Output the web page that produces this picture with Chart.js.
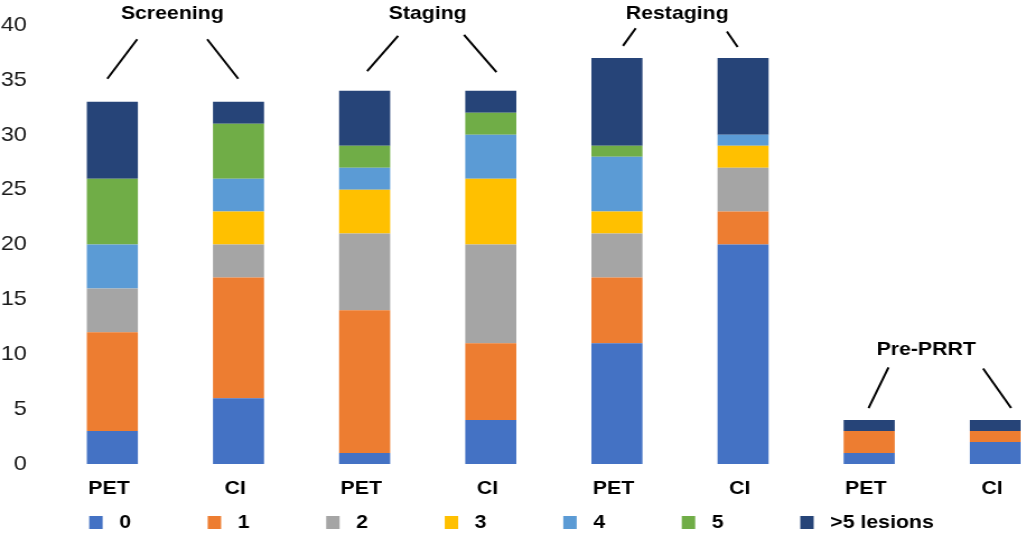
<!DOCTYPE html>
<html>
<head>
<meta charset="utf-8">
<title>Lesions per modality</title>
<script src="https://cdn.jsdelivr.net/npm/chart.js@4.4.1/dist/chart.umd.min.js"></script>
<style>
  html,body{margin:0;padding:0;background:#fff;overflow:hidden;width:1021px;height:536px;}
  /* the source image is stretched horizontally, so the chart is drawn narrow and widened */
  #wrap{position:absolute;left:0;top:0;width:945px;height:542px;transform:scaleX(1.12);transform-origin:0 0;}
</style>
</head>
<body>
<div id="wrap"><canvas id="lesionChart" width="945" height="542"></canvas></div>
<script>
// ===================== DATA =====================
const categories=['PET','CI','PET','CI','PET','CI','PET','CI'];
const groupNames=['Screening','Staging','Restaging','Pre-PRRT'];
const seriesNames=['0','1','2','3','4','5','>5 lesions'];
const lesions0=[3,6,1,4,11,20,1,2];
const lesions1=[9,11,13,7,6,3,2,1];
const lesions2=[4,3,7,9,4,4,0,0];
const lesions3=[0,3,4,6,2,2,0,0];
const lesions4=[4,3,2,4,5,1,0,0];
const lesions5=[6,5,2,2,1,0,0,0];
const lesionsMore=[7,2,5,2,8,7,1,1];
const yMin=0, yMax=40, yStep=5;

// ===================== STYLE =====================
const COLORS=['#4472C4','#ED7D31','#A5A5A5','#FFC000','#5B9BD5','#70AD47','#264478'];
const FONT='"Liberation Sans", Arial, sans-serif';

// bracket geometry for the group labels, in axis units
// (x = category index, y = value on the count axis)
const BRACKETS=[
  {x:0.475, y:41.0, lines:[[-0.04,35.1, 0.197,38.7],[0.752,38.7, 0.998,35.1]]},
  {x:2.50,  y:41.0, lines:[[2.02,35.8, 2.265,39.0],[2.788,39.1, 3.045,35.7]]},
  {x:4.478, y:41.0, lines:[[4.048,38.1, 4.149,39.7],[4.872,39.4, 4.957,38.0]]},
  {x:6.452, y:10.4, lines:[[5.995,5.1, 6.153,8.8],[6.903,8.7, 7.125,5.1]]},
];

// ===================== PLUGIN: group labels + brackets =====================
const groupBrackets={
  id:'groupBrackets',
  afterDatasetsDraw(chart){
    const {ctx,scales:{x,y}}=chart;
    ctx.save();
    ctx.strokeStyle='#000';
    ctx.lineWidth=2;
    ctx.fillStyle='#000';
    ctx.font='bold 19px '+FONT;
    ctx.textAlign='center';
    ctx.textBaseline='middle';
    BRACKETS.forEach((b,gi)=>{
      ctx.fillText(groupNames[gi],x.getPixelForValue(b.x),y.getPixelForValue(b.y));
      b.lines.forEach(l=>{
        ctx.beginPath();
        ctx.moveTo(x.getPixelForValue(l[0]),y.getPixelForValue(l[1]));
        ctx.lineTo(x.getPixelForValue(l[2]),y.getPixelForValue(l[3]));
        ctx.stroke();
      });
    });
    ctx.restore();
  }
};

// ===================== CHART =====================
const seriesData=[lesions0,lesions1,lesions2,lesions3,lesions4,lesions5,lesionsMore];
const datasets=seriesNames.map((name,si)=>({
  label:name,
  data:seriesData[si],
  backgroundColor:COLORS[si],
  borderWidth:0,
  barPercentage:0.405,
  categoryPercentage:1,
}));

// legend items are spaced evenly in the source; pad the short labels
const PAD='\u00a0'.repeat(11);
const TAIL='\u00a0'.repeat(6);

new Chart(document.getElementById('lesionChart').getContext('2d'),{
  type:'bar',
  data:{labels:categories,datasets},
  options:{
    responsive:false,
    animation:false,
    layout:{padding:{top:25,left:0,right:0,bottom:0}},
    plugins:{
      tooltip:{enabled:false},
      legend:{
        position:'bottom',
        labels:{
          color:'#000',
          font:{family:FONT,size:19,weight:'bold'},
          boxWidth:12,
          boxHeight:13,
          padding:10.4,
          generateLabels:chart=>Chart.defaults.plugins.legend.labels.generateLabels(chart).map((it,i,arr)=>{
            it.text='\u00a0'+it.text+(i<arr.length-1?PAD:TAIL);
            it.lineWidth=0;
            return it;
          })
        }
      }
    },
    scales:{
      x:{
        stacked:true,
        grid:{display:false,drawTicks:false},
        border:{display:false},
        ticks:{color:'#000',font:{family:FONT,size:19,weight:'bold'},padding:13,labelOffset:-3,maxRotation:0,autoSkip:false},
        afterFit:s=>{s.height=38.6;}
      },
      y:{
        stacked:true,
        min:yMin,max:yMax,
        grid:{display:false,drawTicks:false},
        border:{display:false},
        ticks:{stepSize:yStep,color:'#1a1a1a',font:{family:FONT,size:21},padding:20},
        // fixed axis width; the tick padding must not push the plot down
        afterFit:s=>{s.width=44;s.paddingTop=0;s.paddingBottom=0;}
      }
    }
  },
  plugins:[groupBrackets]
});
</script>
</body>
</html>
